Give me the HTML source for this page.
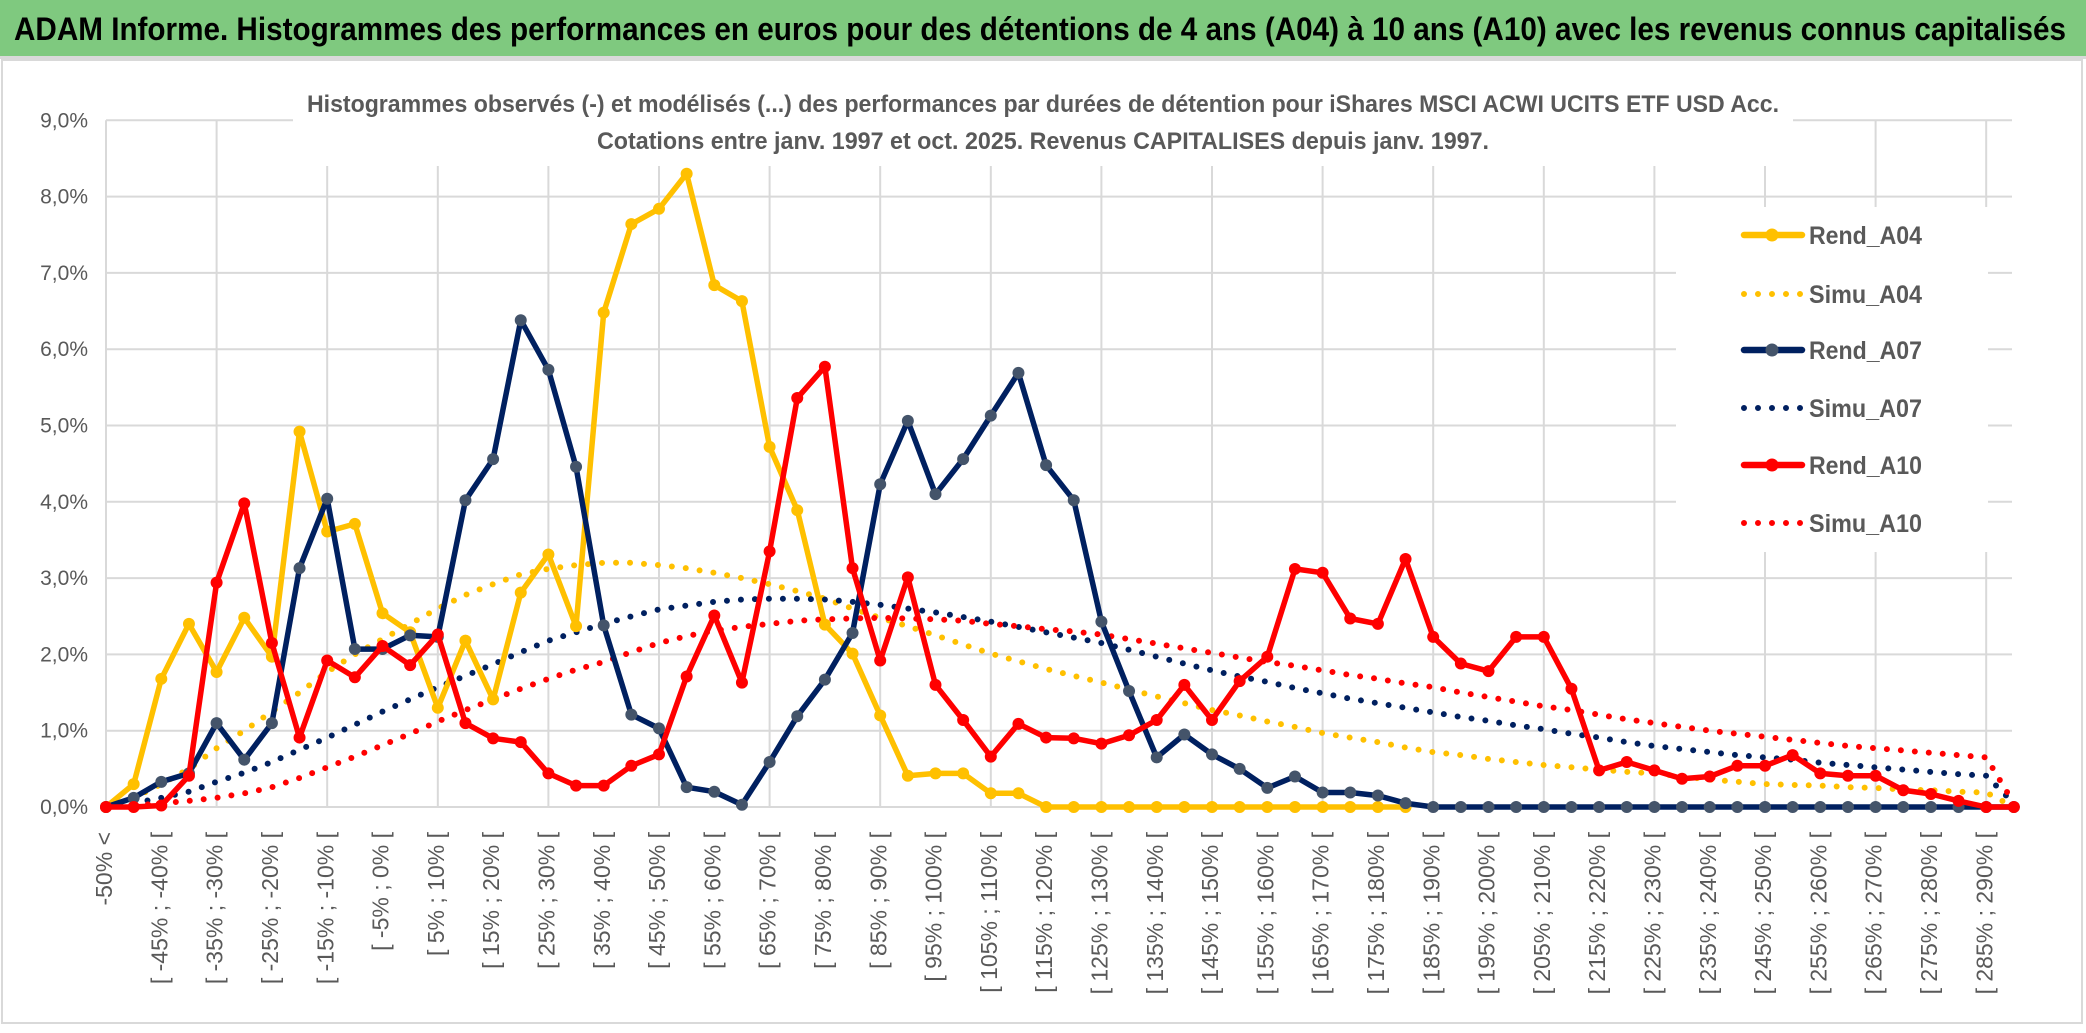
<!DOCTYPE html>
<html><head><meta charset="utf-8">
<style>
html,body{margin:0;padding:0;background:#fff;}
svg{display:block;font-family:"Liberation Sans",sans-serif;}
</style></head>
<body>
<svg id="chart" width="2086" height="1033" viewBox="0 0 2086 1033" xmlns="http://www.w3.org/2000/svg">
  <rect x="0" y="0" width="2086" height="1033" fill="#fff"/>
  <rect x="0" y="0" width="2086" height="56" fill="#7fc97f"/>
  <rect x="0" y="56" width="2086" height="3" fill="#d9d9d9"/>
  <text x="14" y="40" font-size="32" font-weight="bold" fill="#000" textLength="2052" lengthAdjust="spacingAndGlyphs">ADAM Informe. Histogrammes des performances en euros pour des détentions de 4 ans (A04) à 10 ans (A10) avec les revenus connus capitalisés</text>
  <rect x="2" y="60" width="2080" height="963" fill="none" stroke="#d9d9d9" stroke-width="2"/>
  <g id="grid"></g>
  <rect x="293" y="80" width="1500" height="86" fill="#fff"/>
  <text x="1043" y="112" font-size="24" font-weight="bold" fill="#595959" text-anchor="middle" textLength="1472" lengthAdjust="spacingAndGlyphs">Histogrammes observés (-) et modélisés (...) des performances par durées de détention pour iShares MSCI ACWI UCITS ETF USD Acc.</text>
  <text x="1043" y="149" font-size="24" font-weight="bold" fill="#595959" text-anchor="middle" textLength="892" lengthAdjust="spacingAndGlyphs">Cotations entre janv. 1997 et oct. 2025. Revenus CAPITALISES depuis janv. 1997.</text>
  <g id="yaxis"></g>
  <g id="xaxis"></g>
  <g id="series"></g>
  <g id="legend"></g>
</svg>
<script>
const categoryCount = 70;
const yTicks = [0,1,2,3,4,5,6,7,8,9];
const rendA04 = [0,0.3,1.68,2.40,1.77,2.48,1.97,4.92,3.61,3.71,2.54,2.29,1.30,2.18,1.41,2.81,3.31,2.37,6.48,7.64,7.84,8.30,6.84,6.63,4.72,3.89,2.39,2.01,1.20,0.41,0.44,0.44,0.18,0.18,0,0,0,0,0,0,0,0,0,0,0,0,0,0,null,null,null,null,null,null,null,null,null,null,null,null,null,null,null,null,null,null,null,null,null,null];
const simuA04 = [0,0.12,0.3,0.5,0.77,1.0,1.25,1.5,1.77,2.0,2.2,2.4,2.6,2.78,2.92,3.05,3.12,3.17,3.2,3.2,3.17,3.13,3.07,3.0,2.92,2.83,2.73,2.6,2.48,2.37,2.25,2.13,2.01,1.91,1.81,1.72,1.63,1.54,1.45,1.36,1.27,1.2,1.12,1.05,0.97,0.91,0.85,0.78,0.72,0.68,0.63,0.59,0.55,0.52,0.49,0.46,0.44,0.4,0.36,0.33,0.30,0.29,0.28,0.26,0.25,0.23,0.22,0.2,0.19,0.0];
const rendA07 = [0,0.12,0.33,0.44,1.10,0.62,1.10,3.13,4.04,2.07,2.07,2.25,2.23,4.02,4.56,6.38,5.73,4.46,2.38,1.21,1.03,0.26,0.20,0.03,0.59,1.19,1.67,2.28,4.23,5.06,4.10,4.56,5.13,5.69,4.48,4.02,2.43,1.52,0.65,0.95,0.69,0.50,0.25,0.40,0.19,0.19,0.15,0.05,0,0,0,0,0,0,0,0,0,0,0,0,0,0,0,0,0,0,0,0,0,0];
const simuA07 = [0,0.05,0.12,0.2,0.33,0.45,0.59,0.75,0.91,1.08,1.25,1.41,1.57,1.72,1.87,2.03,2.18,2.29,2.4,2.5,2.59,2.64,2.69,2.72,2.73,2.73,2.72,2.69,2.65,2.6,2.55,2.49,2.43,2.36,2.29,2.22,2.15,2.06,1.97,1.88,1.79,1.71,1.64,1.56,1.49,1.42,1.36,1.3,1.24,1.18,1.13,1.07,1.02,0.96,0.91,0.85,0.80,0.76,0.72,0.68,0.65,0.62,0.58,0.55,0.52,0.49,0.46,0.43,0.41,0.05];
const rendA10 = [0,0,0.02,0.41,2.94,3.98,2.15,0.91,1.92,1.70,2.11,1.86,2.26,1.10,0.90,0.85,0.44,0.28,0.28,0.54,0.69,1.71,2.51,1.63,3.35,5.36,5.77,3.13,1.92,3.01,1.60,1.14,0.66,1.09,0.91,0.90,0.83,0.94,1.14,1.60,1.14,1.65,1.97,3.12,3.07,2.47,2.40,3.25,2.23,1.88,1.78,2.23,2.23,1.55,0.48,0.59,0.48,0.37,0.40,0.54,0.54,0.68,0.44,0.41,0.41,0.22,0.17,0.08,0,0];
const simuA10 = [0,0.02,0.05,0.08,0.12,0.18,0.26,0.38,0.52,0.66,0.81,0.96,1.12,1.27,1.41,1.55,1.68,1.8,1.9,2.03,2.15,2.24,2.31,2.36,2.4,2.44,2.46,2.47,2.48,2.47,2.46,2.44,2.4,2.37,2.33,2.3,2.26,2.2,2.14,2.08,2.02,1.96,1.9,1.85,1.79,1.73,1.68,1.62,1.57,1.5,1.44,1.38,1.32,1.27,1.21,1.15,1.10,1.05,1.0,0.96,0.92,0.88,0.84,0.8,0.77,0.74,0.71,0.68,0.65,0.05];
const seriesNames = ["Rend_A04","Simu_A04","Rend_A07","Simu_A07","Rend_A10","Simu_A10"];

const NS = "http://www.w3.org/2000/svg";
const X0 = 106, XSTEP = 27.65, Y0 = 807, YUNIT = 76.3, XRIGHT = 2012;
function xPos(i){ return X0 + i * XSTEP; }
function yPos(v){ return Y0 - v * YUNIT; }
function mk(tag, attrs, parent){
  const e = document.createElementNS(NS, tag);
  for (const k in attrs) e.setAttribute(k, attrs[k]);
  parent.appendChild(e);
  return e;
}
function catLabel(i){
  if (i === 0) return "-50% <";
  const lo = -50 + 5*(i-1), hi = lo + 5;
  return "[ " + lo + "% ; " + hi + "% [";
}

const grid = document.getElementById('grid');
yTicks.forEach(t => {
  const l = mk('line', {x1:X0, x2:XRIGHT, y1:yPos(t), y2:yPos(t), stroke:'#d9d9d9', 'stroke-width':2}, grid);
  
  
});
for (let i = 0; i < categoryCount; i += 4) {
  const l = mk('line', {x1:xPos(i), x2:xPos(i), y1:yPos(9), y2:Y0, stroke:'#d9d9d9', 'stroke-width':2}, grid);
  
  
}

const yaxis = document.getElementById('yaxis');
yTicks.forEach(t => {
  const tx = mk('text', {x:88, y:yPos(t)+7, 'font-size':21, fill:'#595959', 'text-anchor':'end'}, yaxis);
  
  
  tx.textContent = t.toFixed(1).replace('.', ',') + '%';
});

const xaxis = document.getElementById('xaxis');
for (let i = 0; i < categoryCount; i += 2) {
  const x = xPos(i), y = 832;
  const tx = mk('text', {x:x, y:y, 'font-size':23, fill:'#595959', 'text-anchor':'end', 'dominant-baseline':'middle', transform:'rotate(-90 '+x+' '+y+')'}, xaxis);
  
  
  tx.textContent = catLabel(i);
}

const series = document.getElementById('series');
function pathFor(arr){
  let d = '', pen = false;
  arr.forEach((v, i) => {
    if (v === null) { pen = false; return; }
    d += (pen ? 'L' : 'M') + xPos(i).toFixed(1) + ' ' + yPos(v).toFixed(1) + ' ';
    pen = true;
  });
  return d;
}
function drawSimu(arr, color, name){
  const p = mk('path', {d:pathFor(arr), fill:'none', stroke:color, 'stroke-width':6, 'stroke-linecap':'round', 'stroke-dasharray':'0 14'}, series);
  
  
}
function drawRend(arr, color, markerColor, name){
  const p = mk('path', {d:pathFor(arr), fill:'none', stroke:color, 'stroke-width':5.5, 'stroke-linejoin':'round'}, series);
  
  
  arr.forEach((v, i) => {
    if (v === null) return;
    const c = mk('circle', {cx:xPos(i), cy:yPos(v), r:6, fill:markerColor}, series);
    
    
  });
}
drawSimu(simuA04, '#ffc000', 'simu-a04-line');
drawSimu(simuA07, '#002060', 'simu-a07-line');
drawSimu(simuA10, '#ff0000', 'simu-a10-line');
drawRend(rendA04, '#ffc000', '#ffc000', 'rend-a04-line');
drawRend(rendA07, '#002060', '#44546a', 'rend-a07-line');
drawRend(rendA10, '#ff0000', '#ff0000', 'rend-a10-line');

const legend = document.getElementById('legend');
const lbg = mk('rect', {x:1676, y:207, width:312, height:345, fill:'#fff'}, legend);


const legColors = ['#ffc000','#ffc000','#002060','#002060','#ff0000','#ff0000'];
const legMarkers = ['#ffc000',null,'#44546a',null,'#ff0000',null];
const legY = [235,294,350,408,465,523];
seriesNames.forEach((n, k) => {
  const g = mk('g', {}, legend);
  
  
  const y = legY[k];
  if (legMarkers[k]) {
    mk('line', {x1:1744, x2:1802, y1:y, y2:y, stroke:legColors[k], 'stroke-width':6.5, 'stroke-linecap':'round'}, g);
    mk('circle', {cx:1772, cy:y, r:6.5, fill:legMarkers[k]}, g);
  } else {
    mk('line', {x1:1744, x2:1802, y1:y, y2:y, stroke:legColors[k], 'stroke-width':6, 'stroke-linecap':'round', 'stroke-dasharray':'0 14'}, g);
  }
  const t = mk('text', {x:1809, y:y+9, 'font-size':25, 'font-weight':'bold', fill:'#595959', textLength:113, lengthAdjust:'spacingAndGlyphs'}, g);
  t.textContent = n;
});
</script>
</body></html>
